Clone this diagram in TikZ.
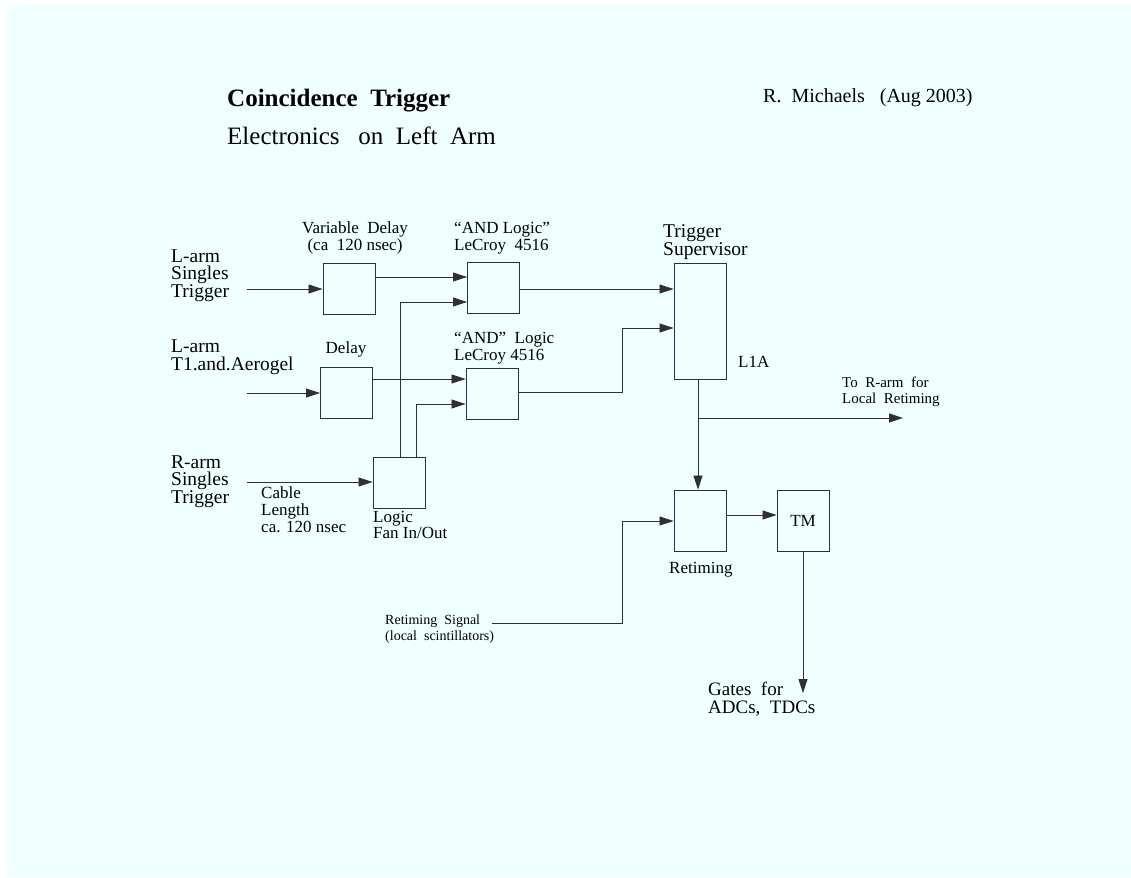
\documentclass[tikz,border=0pt]{standalone}
\usepackage{fontspec}
\setmainfont{Liberation Serif}
\usepackage{tikz}
\usetikzlibrary{arrows.meta, positioning, calc}
\definecolor{azurebg}{HTML}{F0FFFF}
\definecolor{wire}{HTML}{303030}

\begin{document}
\begin{tikzpicture}[x=1pt, y=-1pt,
  unit/.style={rectangle, draw=wire, line width=0.9pt, inner sep=0pt,
    minimum width=52pt, minimum height=51pt, font=\fontsize{17}{15}\selectfont},
  sig/.style={-{Triangle[length=14pt, width=9pt]}, line width=0.8pt, draw=wire},
  big/.style={font=\fontsize{19.5}{17.5}\selectfont, align=left, inner sep=0pt, anchor=base west},
  lab/.style={font=\fontsize{17}{17}\selectfont, align=left, inner sep=0pt, anchor=base west},
  small/.style={font=\fontsize{15}{15.5}\selectfont, align=left, inner sep=0pt, anchor=base west}
]
  % page
  \useasboundingbox (0,0) rectangle (1131,877);
  \fill[azurebg] (6,5) rectangle (1131,877);

  % heading
  \node[big, font=\fontsize{25}{25}\selectfont\bfseries] (title) at (227,107) {Coincidence\ \ Trigger};
  \node[big, font=\fontsize{25}{25}\selectfont] (subtitle) at (227,145) {Electronics\ \ \ on\ \ Left\ \ Arm};
  \node[big, font=\fontsize{20}{20}\selectfont] (author) at (763,103) {R.\ \ Michaels\ \ \ (Aug 2003)};

  % modules
  \node[unit] (vdel) at (349,288.5) {};
  \node[unit] (and1) at (493.5,287.5) {};
  \node[unit] (del)  at (346.5,392.5) {};
  \node[unit] (and2) at (492,393.5) {};
  \node[unit] (fan)  at (399,482.5) {};
  \node[unit, minimum height=116pt] (ts) at (700,321) {};
  \node[unit, minimum height=61pt] (ret) at (700,520.5) {};
  \node[unit, minimum height=61pt] (tm)  at (803,520.5) {TM};

  % labels
  \node[big] (larm1) at (171,297) {L-arm\\Singles\\Trigger};
  \node[big] (larm2) at (171,370) {L-arm\\T1.and.Aerogel};
  \node[big] (rarm)  at (171,503) {R-arm\\Singles\\Trigger};
  \node[lab, align=center, anchor=base] (vdellab) at (355,250) {Variable\ \ Delay\\(ca\ \ 120 nsec)};
  \node[lab, anchor=base] (dellab) at (346,353) {Delay};
  \node[lab] (and1lab) at (454,250) {``AND Logic''\\LeCroy\ \ 4516};
  \node[lab] (and2lab) at (454,360) {``AND''\ \ Logic\\LeCroy 4516};
  \node[big] (tslab)   at (663,255) {Trigger\\Supervisor};
  \node[lab] (l1a)     at (738,367) {L1A};
  \node[small] (torarmlab) at (842,403) {To\ \ R-arm\ \ for\\Local\ \ Retiming};
  \node[lab] (cablelab) at (261,532) {Cable\\Length\\ca. 120 nsec};
  \node[lab, font=\fontsize{17}{15.5}\selectfont] (fanlab) at (373,538) {Logic\\Fan In/Out};
  \node[lab] (retlab)  at (669,573) {Retiming};
  \node[small, font=\fontsize{14}{15.5}\selectfont] (retsiglab) at (385,640) {Retiming\ \ Signal\\(local\ \ scintillators)};
  \node[big, font=\fontsize{19}{18}\selectfont] (gateslab) at (708,713) {Gates\ \ for\\ADCs,\ \ TDCs};

  % free ends
  \coordinate (in1) at (247,289);
  \coordinate (in2) at (247,393);
  \coordinate (in3) at (247,482);
  \coordinate (torarm) at (903,418);
  \coordinate (retsig) at (492,623);
  \coordinate (gates) at (803,693);

  % signals
  \draw[sig] (in1) -- (vdel.west |- in1);
  \draw[sig] (vdel.east |- 0,277) -- (and1.west |- 0,277);
  \draw[sig] (and1.east |- 0,289) -- (ts.west |- 0,289);
  \draw[sig] (in2) -- (del.west |- in2);
  \draw[sig] (del.east |- 0,379) -- (and2.west |- 0,379);
  \draw[sig] (and2.east |- 0,392) -- (622,392) |- (ts.west |- 0,328);
  \draw[sig] (in3) -- (fan.west |- in3);
  \draw[sig] ([xshift=1pt]fan.north) |- (and1.west |- 0,302);
  \draw[sig] ([xshift=17pt]fan.north) |- (and2.west |- 0,404);
  \draw[sig] ([xshift=-2pt]ts.south) -- ([xshift=-2pt]ret.north);
  \draw[sig] (ts.south -| 698,0) |- (torarm);
  \draw[sig] (ret.east |- 0,515) -- (tm.west |- 0,515);
  \draw[sig] (retsig) -- (622,623) |- (ret.west |- 0,521);
  \draw[sig] (tm.south) -- (gates);
\end{tikzpicture}
\end{document}
